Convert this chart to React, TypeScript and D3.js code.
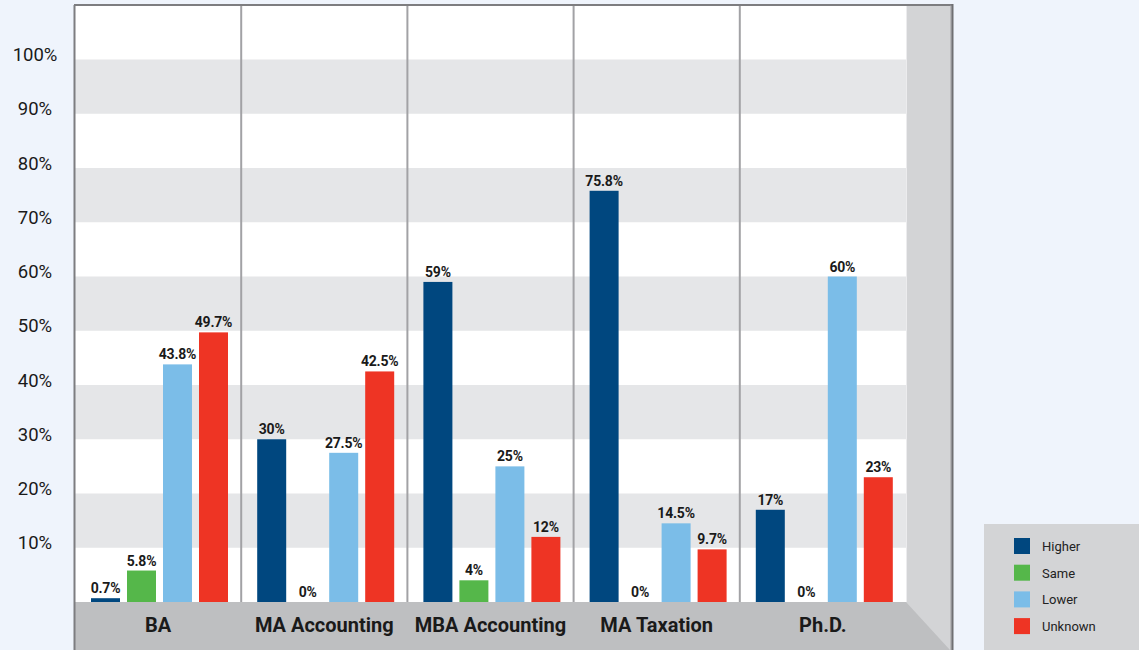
import React from "react";
import * as d3 from "d3";

const categories = ["BA", "MA Accounting", "MBA Accounting", "MA Taxation", "Ph.D."];
const seriesNames = ["Higher", "Same", "Lower", "Unknown"];
const higher = [0.7, 30, 59, 75.8, 17];
const same = [5.8, 0, 4, 0, 0];
const lower = [43.8, 27.5, 25, 14.5, 60];
const unknown = [49.7, 42.5, 12, 9.7, 23];
const seriesValues = [higher, same, lower, unknown];
const seriesColors = ["#00477f", "#55b74a", "#7bbde8", "#ee3424"];
const yTicks = [10, 20, 30, 40, 50, 60, 70, 80, 90, 100];

function fmt(v: number) {
  return `${v}%`;
}

export default function App() {
  const W = 1139;
  const H = 650;
  const left = 75;
  const plotRight = 906;
  const frameRight = 952;
  const top = 5;
  const base = 602;

  const y = d3.scaleLinear().domain([0, 100]).range([base, 59.5]);
  const x0 = d3.scaleBand<string>().domain(categories).range([left, plotRight]);
  const x1 = d3
    .scaleBand<string>()
    .domain(seriesNames)
    .range([16, 153])
    .paddingInner(7 / 36)
    .paddingOuter(0);

  const bands = d3.range(10, 100, 20);
  const font = "Roboto, 'Liberation Sans', Arial, sans-serif";

  return (
    <svg
      width={W}
      height={H}
      style={{ position: "absolute", left: 0, top: 0, display: "block" }}
      fontFamily={font}
    >
      <rect x={0} y={0} width={W} height={H} fill="#eff4fc" />
      {/* plot background */}
      <rect x={left} y={top} width={plotRight - left} height={base - top} fill="#ffffff" />
      {bands.map((b) => (
        <rect
          key={b}
          x={left}
          y={y(b + 10)}
          width={plotRight - left}
          height={y(b) - y(b + 10)}
          fill="#e5e6e8"
        />
      ))}
      {/* right side panel */}
      <rect x={plotRight} y={top} width={frameRight - plotRight} height={H - top} fill="#d3d4d6" />
      <line x1={plotRight + 0.5} x2={plotRight + 0.5} y1={top} y2={base} stroke="#ececee" strokeWidth={1} />
      {/* floor */}
      <polygon
        points={`${left},${base} ${plotRight},${base} ${frameRight - 2},${H} ${left},${H}`}
        fill="#bebfc1"
      />
      {/* dividers */}
      {categories.slice(1).map((c) => (
        <line
          key={c}
          x1={x0(c)!}
          x2={x0(c)!}
          y1={top}
          y2={base}
          stroke="#a2a2a5"
          strokeWidth={2}
        />
      ))}
      {/* bars */}
      {categories.map((c, ci) => (
        <g key={c} transform={`translate(${x0(c)},0)`}>
          {seriesNames.map((s, si) => {
            const v = seriesValues[si][ci];
            const bx = x1(s)!;
            const bw = x1.bandwidth();
            return (
              <g key={s}>
                {v > 0 && (
                  <rect x={bx} y={y(v)} width={bw} height={base - y(v)} fill={seriesColors[si]} />
                )}
                <text
                  x={bx + bw / 2}
                  y={y(v) - 5}
                  textAnchor="middle"
                  fontSize={14}
                  fontWeight="bold"
                  letterSpacing={-0.2}
                  fill="#1a1a1a"
                >
                  {fmt(v)}
                </text>
              </g>
            );
          })}
          <text
            x={x0.bandwidth() / 2}
            y={625}
            textAnchor="middle"
            dominantBaseline="central"
            fontSize={20}
            fontWeight="bold"
            fill="#1a1a1a"
          >
            {c}
          </text>
        </g>
      ))}
      {/* frame */}
      <line x1={left - 1} x2={frameRight} y1={top} y2={top} stroke="#7d7d80" strokeWidth={2} />
      <line x1={left - 0.5} x2={left - 0.5} y1={top} y2={H} stroke="#7d7d80" strokeWidth={2} />
      <line x1={frameRight - 1} x2={frameRight - 1} y1={top} y2={H} stroke="#9a9a9d" strokeWidth={1} />
      <line x1={frameRight + 0.5} x2={frameRight + 0.5} y1={top - 1} y2={H} stroke="#6f6f72" strokeWidth={2} />
      {/* y tick labels */}
      {yTicks.map((t) => (
        <text
          key={t}
          x={35}
          y={y(t) - 4.5}
          textAnchor="middle"
          dominantBaseline="central"
          fontSize={18.5}
          fill="#1a1a1a"
        >
          {fmt(t)}
        </text>
      ))}
      {/* legend */}
      <rect x={984} y={524} width={W - 984} height={H - 524} fill="#d3d4d6" />
      {seriesNames.map((s, i) => (
        <g key={s} transform={`translate(1014,${538 + i * 26.7})`}>
          <rect x={0} y={0} width={16} height={16} fill={seriesColors[i]} />
          <text x={28} y={8.5} dominantBaseline="central" fontSize={13} fill="#222">
            {s}
          </text>
        </g>
      ))}
    </svg>
  );
}
